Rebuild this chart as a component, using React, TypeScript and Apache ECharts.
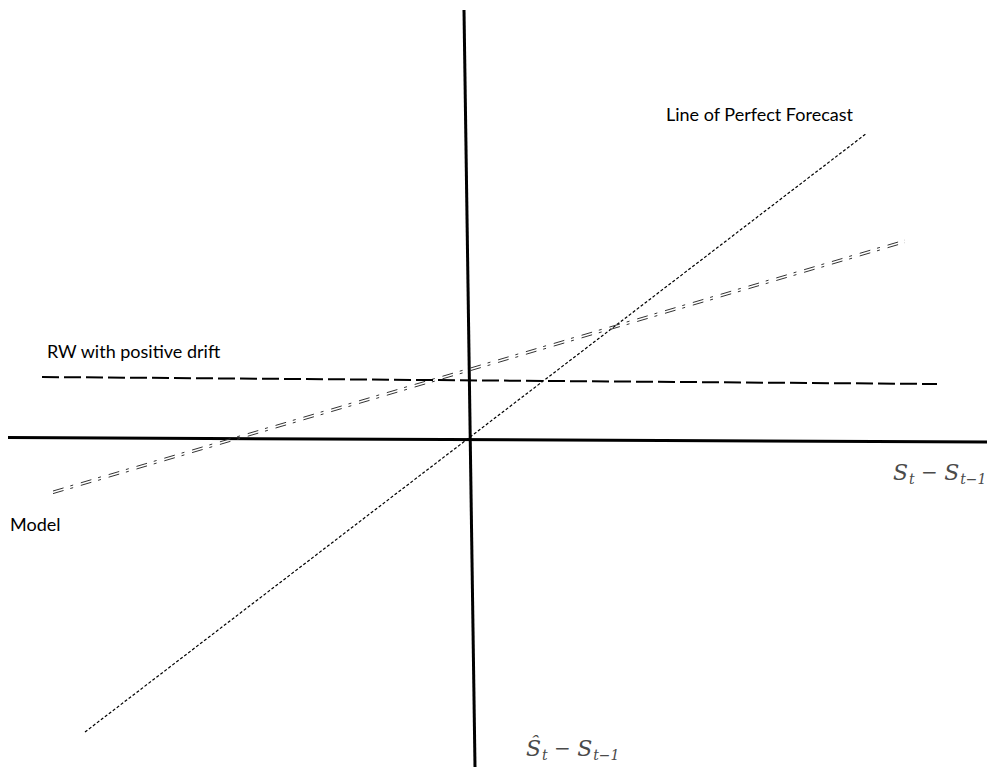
import React, { useEffect, useRef } from "react";
import * as echarts from "echarts";

// Schematic coordinates (origin = crossing of the two axes, 1 unit ≈ 10 px)
const xRange = [-47.0, 51.7];
const yRange = [-32.8, 43.9];

const horizAxisLine: number[][] = [[-46.2, 0.15], [51.7, -0.3]];
const vertAxisLine: number[][] = [[-0.6, 42.9], [0.5, -32.8]];
const perfectForecast: number[][] = [[-38.5, -29.3], [39.7, 30.6]];
const modelLine: number[][] = [[-41.7, -5.2], [43.5, 19.9]];
const rwDrift: number[][] = [[-42.8, 6.2], [46.7, 5.5]];
const modelGap = 0.26;

const labelFont = "Lato, 'Liberation Sans', sans-serif";
const mathFont = "'DejaVu Serif', 'Liberation Serif', serif";

export default function App() {
  const ref = useRef<HTMLDivElement>(null);
  useEffect(() => {
    if (!ref.current) return;
    const chart = echarts.init(ref.current, null, { renderer: "svg" });
    const lineSeries = (name: string, data: number[][], style: any) => ({
      name,
      type: "line",
      data,
      symbol: "none",
      silent: true,
      lineStyle: style,
      z: 2,
    });
    const mathRich = {
      i: { fontFamily: mathFont, fontStyle: "italic", fontSize: 22, lineHeight: 26, fill: "#4a4a4a" },
      sub: { fontFamily: mathFont, fontStyle: "italic", fontSize: 14, lineHeight: 14, padding: [14, 0, 0, 1], fill: "#4a4a4a" },
      op: { fontFamily: mathFont, fontSize: 20, lineHeight: 26, fill: "#4a4a4a" },
    };
    chart.setOption({
      animation: false,
      backgroundColor: "#ffffff",
      grid: { left: 0, right: 0, top: 0, bottom: 0 },
      xAxis: { type: "value", min: xRange[0], max: xRange[1], show: false },
      yAxis: { type: "value", min: yRange[0], max: yRange[1], show: false },
      series: [
        lineSeries("horizontal axis", horizAxisLine, { color: "#000", width: 3, type: "solid" }),
        lineSeries("vertical axis", vertAxisLine, { color: "#000", width: 3, type: "solid" }),
        lineSeries("Line of Perfect Forecast", perfectForecast, { color: "#000", width: 1.2, type: [3, 2] }),
        lineSeries("Model", modelLine, { color: "#333", width: 1, type: [11, 7, 3, 8] }),
        lineSeries(
          "Model (2)",
          modelLine.map((p) => [p[0], p[1] - modelGap]),
          { color: "#333", width: 1, type: [11, 7, 3, 8] }
        ),
        lineSeries("RW with positive drift", rwDrift, { color: "#000", width: 2, type: [17, 5] }),
      ],
      graphic: [
        {
          type: "text",
          left: 666,
          top: 105,
          style: { text: "Line of Perfect Forecast", font: `18px ${labelFont}`, fill: "#000" },
        },
        {
          type: "text",
          left: 47,
          top: 342,
          style: { text: "RW with positive drift", font: `18px ${labelFont}`, fill: "#000" },
        },
        {
          type: "text",
          left: 10,
          top: 515,
          style: { text: "Model", font: `18px ${labelFont}`, fill: "#000" },
        },
        {
          type: "text",
          left: 893,
          top: 458,
          style: { text: "{i|S}{sub|t}{op| − }{i|S}{sub|t−1}", rich: mathRich },
        },
        {
          type: "text",
          left: 526,
          top: 734,
          style: { text: "{i|Ŝ}{sub|t}{op| − }{i|S}{sub|t−1}", rich: mathRich },
        },
      ],
    });
    return () => chart.dispose();
  }, []);
  return (
    <div
      ref={ref}
      style={{ position: "fixed", left: 0, top: 0, width: 987, height: 767, background: "#fff" }}
    />
  );
}
